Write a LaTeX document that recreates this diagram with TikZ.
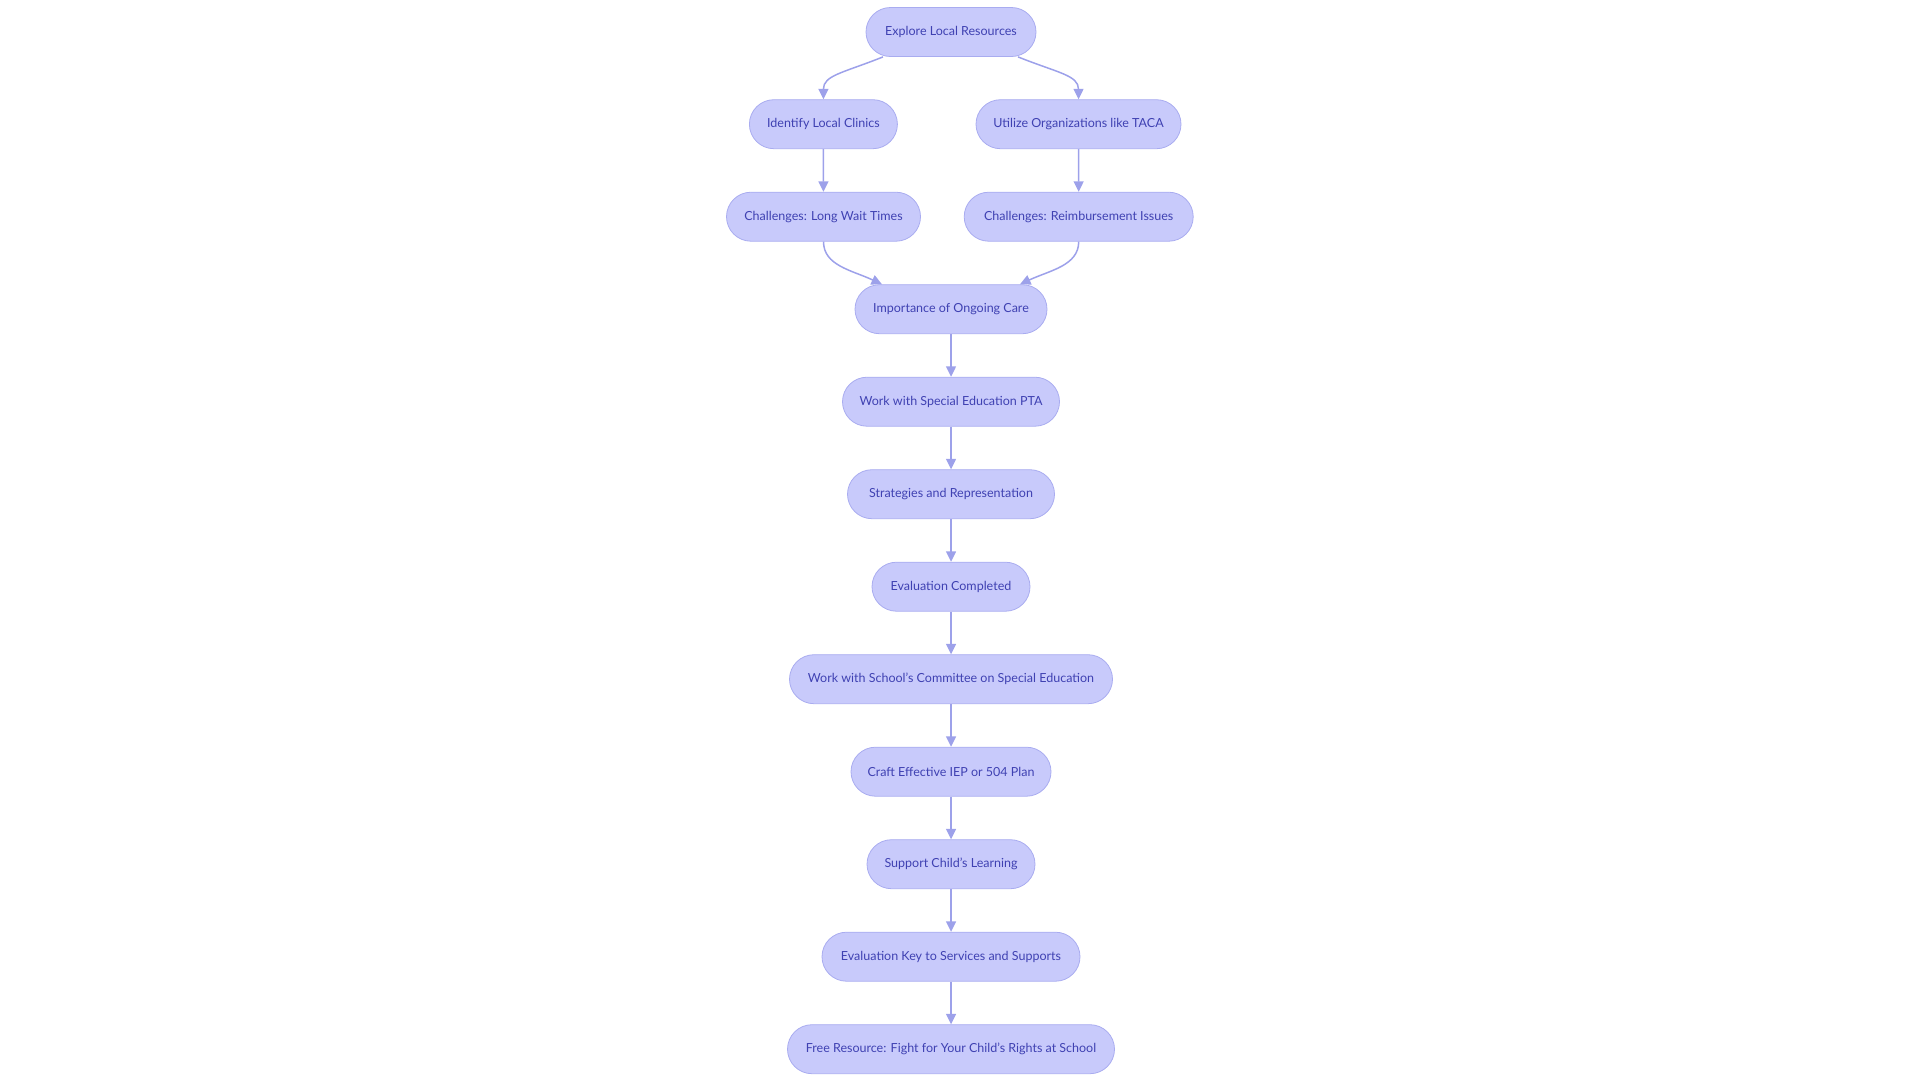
\documentclass[tikz,border=0pt]{standalone}
\usepackage{fontspec}
\setmainfont{Lato}
\usetikzlibrary{arrows.meta}
\definecolor{nodefill}{HTML}{C8CAFB}
\definecolor{nodeborder}{HTML}{A9ACF0}
\definecolor{nodetext}{HTML}{3F41B2}
\definecolor{edgecol}{HTML}{9DA1EA}
\tikzset{
  box/.style={draw=nodeborder, fill=nodefill, rounded corners=24.5pt, minimum height=49pt,
    text=nodetext, font=\fontsize{12.5pt}{14pt}\selectfont, inner sep=0pt, line width=0.8pt},
  arr/.style={draw=edgecol, line width=1.5pt, -{Triangle[length=10.5pt,width=10pt]}}
}
\begin{document}
\begin{tikzpicture}[x=1pt,y=-1pt]
\useasboundingbox (0,0) rectangle (1920,1080);
\node[box, minimum width=170pt] (exp) at (951,32) {Explore Local Resources};
\node[box, minimum width=148pt] (idc) at (823.4,124.2) {Identify Local Clinics};
\node[box, minimum width=205pt] (uto) at (1078.5,124.2) {Utilize Organizations like TACA};
\node[box, minimum width=194pt] (chl) at (823.5,216.7) {Challenges: Long Wait Times};
\node[box, minimum width=229pt] (chr) at (1078.7,216.7) {Challenges: Reimbursement Issues};
\node[box, minimum width=192pt] (imp) at (951,309.2) {Importance of Ongoing Care};
\node[box, minimum width=217pt] (pta) at (951,401.7) {Work with Special Education PTA};
\node[box, minimum width=207pt] (str) at (951,494.2) {Strategies and Representation};
\node[box, minimum width=158pt] (evc) at (951,586.7) {Evaluation Completed};
\node[box, minimum width=323pt] (sch) at (951,679.2) {Work with School’s Committee on Special Education};
\node[box, minimum width=200pt] (cra) at (951,771.7) {Craft Effective IEP or 504 Plan};
\node[box, minimum width=168pt] (sup) at (951,864.2) {Support Child’s Learning};
\node[box, minimum width=258pt] (evk) at (951,956.7) {Evaluation Key to Services and Supports};
\node[box, minimum width=327pt] (fre) at (951,1049.2) {Free Resource: Fight for Your Child’s Rights at School};

\draw[arr] ([xshift=-68pt]exp.south) .. controls +(-40,16) and +(0,-24) .. (idc.north);
\draw[arr] ([xshift=67pt]exp.south) .. controls +(40,16) and +(0,-24) .. (uto.north);
\draw[arr] (idc) -- (chl);
\draw[arr] (uto) -- (chr);
\draw[arr] (chl.south) .. controls +(0,24) and +(-30,-14) .. ([xshift=-69pt]imp.north);
\draw[arr] (chr.south) .. controls +(0,24) and +(30,-14) .. ([xshift=69pt]imp.north);
\draw[arr] (imp) -- (pta);
\draw[arr] (pta) -- (str);
\draw[arr] (str) -- (evc);
\draw[arr] (evc) -- (sch);
\draw[arr] (sch) -- (cra);
\draw[arr] (cra) -- (sup);
\draw[arr] (sup) -- (evk);
\draw[arr] (evk) -- (fre);
\end{tikzpicture}
\end{document}
